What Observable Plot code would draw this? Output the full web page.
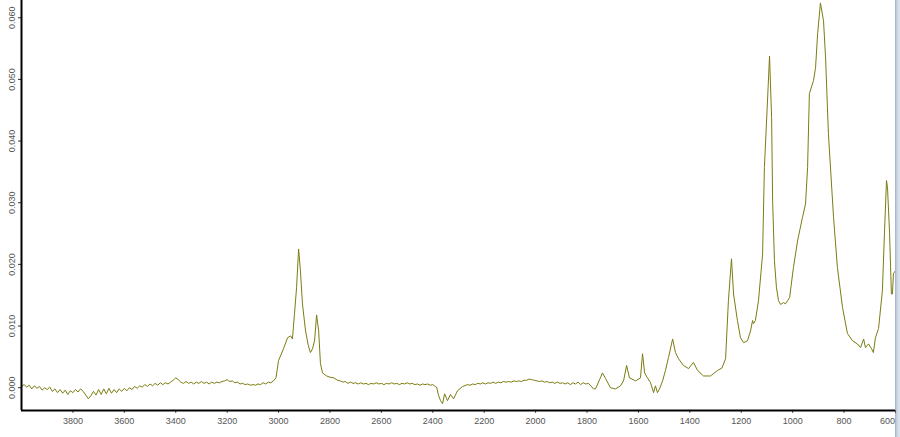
<!DOCTYPE html>
<html>
<head>
<meta charset="utf-8">
<script src="https://cdn.jsdelivr.net/npm/d3@7"></script>
<script src="https://cdn.jsdelivr.net/npm/@observablehq/plot@0.6"></script>
<style>
  html, body { margin: 0; padding: 0; background: #fff; }
  #wrap { position: relative; width: 900px; height: 437px; overflow: hidden; }
  #edge { position: absolute; left: 895px; top: 0; width: 5px; height: 437px; z-index: 0;
          background: linear-gradient(to right, #9fb0c6, #c9d5e4 40%, #dde6f1); }
  #wrap svg { position: absolute; left: 0; top: 0; z-index: 1; }
</style>
</head>
<body>
<div id="wrap"><div id="edge"></div></div>
<script>
// wavenumber (cm-1), descending
const wavenumber = [
  4000,3990,3980,3970,3960,3950,3940,3930,3920,3910,3900,3890,3880,3870,3860,3850,3840,3830,3820,3810,
  3800,3790,3780,3770,3760,3750,3740,3730,3720,3710,3700,3690,3680,3670,3660,3650,3640,3630,3620,3610,
  3600,3590,3580,3570,3560,3550,3540,3530,3520,3510,3500,3490,3480,3470,3460,3450,3440,3430,3420,3410,
  3400,3390,3380,3370,3360,3350,3340,3330,3320,3310,3300,3290,3280,3270,3260,3250,3240,3230,3220,3210,
  3200,3190,3180,3170,3160,3150,3140,3130,3120,3110,3100,3090,3080,3070,3060,3050,3040,3030,3020,3010,
  3005,3000,2981,2965,2953,2946,2938,2930,2922,2915,2907,2895,2884,2876,2868,2860,2852,2844,2837,2829,
  2813,2800,2786,2770,2760,2750,2740,2730,2720,2710,2700,2690,2680,2670,2660,2650,2640,2630,2620,2610,
  2600,2590,2580,2570,2560,2550,2540,2530,2520,2510,2500,2490,2480,2470,2460,2450,2440,2430,2420,2410,
  2400,2390,2385,2378,2370,2362,2354,2343,2331,2319,2304,2284,2265,2255,2245,2235,2225,2215,2205,2195,
  2185,2175,2165,2155,2145,2135,2125,2115,2105,2095,2085,2075,2065,2055,2045,2035,2025,2015,2005,1995,
  1985,1975,1965,1955,1945,1935,1925,1915,1905,1895,1885,1875,1865,1855,1845,1835,1825,1815,1805,1795,
  1785,1775,1767,1748,1740,1728,1709,1689,1670,1658,1646,1635,1611,1592,1584,1576,1565,1553,1541,1534,
  1526,1518,1506,1495,1483,1467,1456,1444,1425,1405,1386,1370,1347,1320,1292,1275,1261,1250,1238,1230,
  1215,1203,1191,1176,1164,1156,1152,1145,1133,1117,1110,1098,1090,1082,1078,1071,1063,1055,1047,1036,
  1028,1020,1012,997,981,962,950,942,935,919,911,903,892,880,872,861,841,826,806,787,
  767,748,736,724,717,705,693,686,678,666,651,643,635,631,623,616,612,608,600
];
// absorbance
const absorbance = [
  0.0002,0.0005,0.0001,0.0004,-0.0002,0.0003,-0.0001,0.0002,-0.0004,0.0000,-0.0003,0.0001,-0.0006,-0.0002,-0.0008,-0.0003,-0.0009,-0.0004,-0.0011,-0.0005,
  -0.0008,-0.0003,-0.0007,-0.0002,-0.0006,-0.0012,-0.0018,-0.0013,-0.0006,-0.0012,-0.0003,-0.0011,-0.0002,-0.0010,-0.0001,-0.0009,-0.0003,-0.0008,-0.0002,-0.0006,
  -0.0001,-0.0005,0.0000,-0.0003,0.0002,-0.0001,0.0003,0.0001,0.0005,0.0002,0.0006,0.0003,0.0007,0.0004,0.0008,0.0005,0.0008,0.0006,0.0009,0.0012,
  0.0016,0.0013,0.0009,0.0007,0.0010,0.0007,0.0009,0.0006,0.0009,0.0007,0.0010,0.0007,0.0009,0.0006,0.0009,0.0007,0.0009,0.0008,0.0010,0.0011,
  0.0013,0.0010,0.0011,0.0008,0.0009,0.0006,0.0007,0.0005,0.0006,0.0004,0.0005,0.0004,0.0006,0.0005,0.0008,0.0006,0.0009,0.0008,0.0011,0.0016,
  0.0030,0.0044,0.0063,0.0081,0.0084,0.0079,0.0120,0.0162,0.0225,0.0190,0.0136,0.0092,0.0068,0.0057,0.0063,0.0076,0.0118,0.0092,0.0039,0.0024,
  0.0019,0.0017,0.0016,0.0012,0.0011,0.0009,0.0010,0.0007,0.0009,0.0007,0.0008,0.0006,0.0008,0.0006,0.0007,0.0005,0.0007,0.0006,0.0008,0.0006,
  0.0007,0.0005,0.0007,0.0006,0.0008,0.0006,0.0007,0.0005,0.0007,0.0006,0.0008,0.0006,0.0007,0.0005,0.0006,0.0004,0.0006,0.0005,0.0006,0.0004,
  0.0005,0.0002,0.0001,-0.0012,-0.0021,-0.0026,-0.0010,-0.0021,-0.0011,-0.0018,-0.0005,0.0002,0.0005,0.0004,0.0006,0.0005,0.0007,0.0006,0.0008,0.0006,
  0.0008,0.0007,0.0009,0.0007,0.0009,0.0008,0.0010,0.0009,0.0010,0.0009,0.0011,0.0010,0.0011,0.0010,0.0012,0.0012,0.0014,0.0013,0.0012,0.0011,
  0.0010,0.0011,0.0009,0.0010,0.0008,0.0009,0.0007,0.0009,0.0007,0.0008,0.0006,0.0008,0.0005,0.0008,0.0006,0.0009,0.0005,0.0008,0.0006,0.0007,
  0.0003,-0.0002,-0.0002,0.0016,0.0024,0.0015,0.0000,-0.0002,0.0003,0.0011,0.0036,0.0016,0.0011,0.0016,0.0055,0.0024,0.0016,0.0008,-0.0008,0.0003,
  -0.0008,-0.0002,0.0011,0.0028,0.0049,0.0079,0.0057,0.0047,0.0036,0.0031,0.0041,0.0028,0.0019,0.0019,0.0028,0.0032,0.0047,0.0141,0.0209,0.0152,
  0.0109,0.0081,0.0073,0.0076,0.0092,0.0109,0.0104,0.0109,0.0141,0.0217,0.0357,0.0465,0.0538,0.0438,0.0303,0.0206,0.0162,0.0141,0.0135,0.0138,
  0.0136,0.0141,0.0146,0.0195,0.0238,0.0276,0.0298,0.0357,0.0477,0.0498,0.0519,0.0574,0.0624,0.0595,0.0535,0.0412,0.0276,0.0195,0.0130,0.0088,
  0.0076,0.0071,0.0065,0.0079,0.0065,0.0071,0.0063,0.0057,0.0081,0.0096,0.0157,0.0250,0.0336,0.0324,0.0250,0.0152,0.0152,0.0185,0.0190
];
const xTicks = [3800,3600,3400,3200,3000,2800,2600,2400,2200,2000,1800,1600,1400,1200,1000,800,600];
const yTicks = [0.000,0.010,0.020,0.030,0.040,0.050,0.060];
const xDomain = [4000, 600];
const yDomain = [-0.0037, 0.0628];

const spectrum = wavenumber.map((w, i) => ({wn: w, a: absorbance[i]}));
const fmt = d3.format(".3f");
const font = "'Liberation Sans', Arial, sans-serif";
const innerTicks = xTicks.slice(0, -1);
const lastTick = xTicks.slice(-1);

const chart = Plot.plot({
  width: 900,
  height: 437,
  marginLeft: 21,
  marginRight: 5,
  marginTop: 0,
  marginBottom: 27,
  style: {background: "transparent", fontFamily: font, fontSize: "9px", overflow: "visible"},
  x: {domain: xDomain, label: null, axis: null},
  y: {domain: yDomain, label: null, axis: null},
  marks: [
    Plot.line(spectrum, {x: "wn", y: "a", stroke: "#7c7c12", strokeWidth: 1, clip: true}),
    Plot.axisX(innerTicks, {anchor: "bottom", tickSize: 3, tickPadding: 4, tickFormat: d => String(d), label: null, color: "#555", fontSize: 9}),
    Plot.axisX(lastTick, {anchor: "bottom", tickSize: 3, tickFormat: () => "", label: null, color: "#555"}),
    Plot.text(lastTick, {x: d => d, frameAnchor: "bottom", dy: 7, dx: -8, text: d => String(d), fill: "#555", fontSize: 9, lineAnchor: "top"}),
    Plot.axisY(yTicks, {anchor: "left", tickSize: 3, tickFormat: () => "", label: null, color: "#333"}),
    Plot.text(yTicks, {y: d => d, frameAnchor: "left", dx: -9, rotate: -90, text: d => fmt(d), fill: "#555", fontSize: 9, textAnchor: "middle", lineAnchor: "middle"}),
    Plot.ruleY([yDomain[0]], {x1: xDomain[0], x2: xDomain[1], stroke: "#000", strokeWidth: 2}),
    Plot.ruleX([xDomain[0]], {y1: yDomain[0], y2: yDomain[1], stroke: "#000", strokeWidth: 2})
  ]
});
document.getElementById("wrap").appendChild(chart);
</script>
</body>
</html>
